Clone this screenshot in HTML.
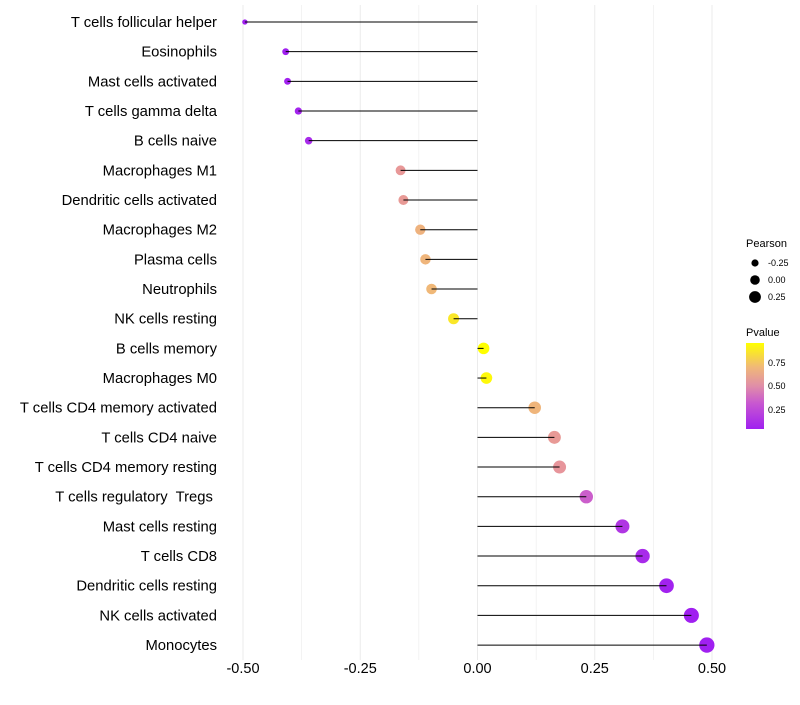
<!DOCTYPE html>
<html><head><meta charset="utf-8"><style>
body{margin:0;background:#fff;font-family:"Liberation Sans",sans-serif;}
</style></head><body>
<svg id="chart" width="800" height="700" xmlns="http://www.w3.org/2000/svg" font-family="Liberation Sans, sans-serif">
<defs><linearGradient id="pg" x1="0" y1="1" x2="0" y2="0">
<stop offset="0" stop-color="#a020f0"/><stop offset="0.3" stop-color="#c858d0"/><stop offset="0.5" stop-color="#e08ea8"/><stop offset="0.72" stop-color="#f0b878"/><stop offset="1" stop-color="#ffff00"/></linearGradient></defs>
<g id="grid"></g><g id="marks"></g><g id="stems"></g><g id="labels"></g><g id="xaxis"></g>
<g>
<text x="746" y="247" font-size="11">Pearson</text>
<circle cx="755" cy="263" r="3.6" fill="#000"/><text x="768" y="266" font-size="9">-0.25</text>
<circle cx="755" cy="280" r="4.8" fill="#000"/><text x="768" y="283" font-size="9">0.00</text>
<circle cx="755" cy="297" r="5.9" fill="#000"/><text x="768" y="300" font-size="9">0.25</text>
</g>
<g>
<text x="746" y="336" font-size="11">Pvalue</text>
<rect x="746" y="343" width="18" height="86" fill="url(#pg)"/>
<text x="768" y="366" font-size="9">0.75</text>
<text x="768" y="389" font-size="9">0.50</text>
<text x="768" y="413" font-size="9">0.25</text>
</g>
</svg>
<script>
const cells=["T cells follicular helper","Eosinophils","Mast cells activated","T cells gamma delta","B cells naive","Macrophages M1","Dendritic cells activated","Macrophages M2","Plasma cells","Neutrophils","NK cells resting","B cells memory","Macrophages M0","T cells CD4 memory activated","T cells CD4 naive","T cells CD4 memory resting","T cells regulatory  Tregs ","Mast cells resting","T cells CD8","Dendritic cells resting","NK cells activated","Monocytes"];
const pearson=[-0.496,-0.409,-0.405,-0.382,-0.360,-0.164,-0.158,-0.122,-0.111,-0.098,-0.051,0.013,0.019,0.122,0.164,0.175,0.232,0.309,0.352,0.403,0.456,0.489];
const pvalue=[0.02,0.05,0.06,0.07,0.10,0.52,0.53,0.68,0.70,0.72,0.88,0.96,0.94,0.70,0.53,0.51,0.32,0.15,0.10,0.06,0.04,0.03];
const xTicks=[-0.5,-0.25,0,0.25,0.5];
const xTickLabels=["-0.50","-0.25","0.00","0.25","0.50"];
const NS="http://www.w3.org/2000/svg";
const X=v=>477.5+v*469;
const Y=i=>22+i*29.67;
const R=v=>Math.sqrt(Math.max(3,33+52*v));
const stops=[[0.05,[160,32,240]],[0.3,[200,88,208]],[0.52,[232,152,152]],[0.72,[240,184,120]],[0.96,[255,255,0]]];
function col(p){if(p<=stops[0][0])return"rgb("+stops[0][1]+")";for(let k=1;k<stops.length;k++){if(p<=stops[k][0]){const a=stops[k-1],b=stops[k],t=(p-a[0])/(b[0]-a[0]);return"rgb("+a[1].map((c,j)=>Math.round(c+(b[1][j]-c)*t)).join(",")+")";}}return"rgb(255,255,0)";}
function mk(t,a,p){const e=document.createElementNS(NS,t);for(const k in a)e.setAttribute(k,a[k]);p.appendChild(e);return e;}
const grid=document.getElementById('grid'),marks=document.getElementById('marks'),stems=document.getElementById('stems'),labels=document.getElementById('labels'),xa=document.getElementById('xaxis');
for(let v=-0.5;v<=0.5001;v+=0.125){const g=mk('line',{x1:X(v),x2:X(v),y1:5,y2:660,stroke:'#ebebeb','stroke-width':Math.abs((v*4)%1)<0.01?1:0.6},grid);

}
xTicks.forEach((v,i)=>{const t=mk('text',{x:X(v),y:673,'font-size':14.5,'text-anchor':'middle',fill:'#000'},xa);t.textContent=xTickLabels[i];

});
cells.forEach((c,i)=>{const y=Y(i);
const d=mk('circle',{cx:X(pearson[i]),cy:y,r:R(pearson[i]),fill:col(pvalue[i])},marks);


const l=mk('line',{x1:X(0),x2:X(pearson[i]),y1:y,y2:y,stroke:'#000','stroke-width':1},stems);


const t=mk('text',{x:217,y:y+5,'font-size':14.8,'text-anchor':'end',fill:'#000'},labels);t.textContent=c;t.style.whiteSpace='pre';

});
</script>
</body></html>
